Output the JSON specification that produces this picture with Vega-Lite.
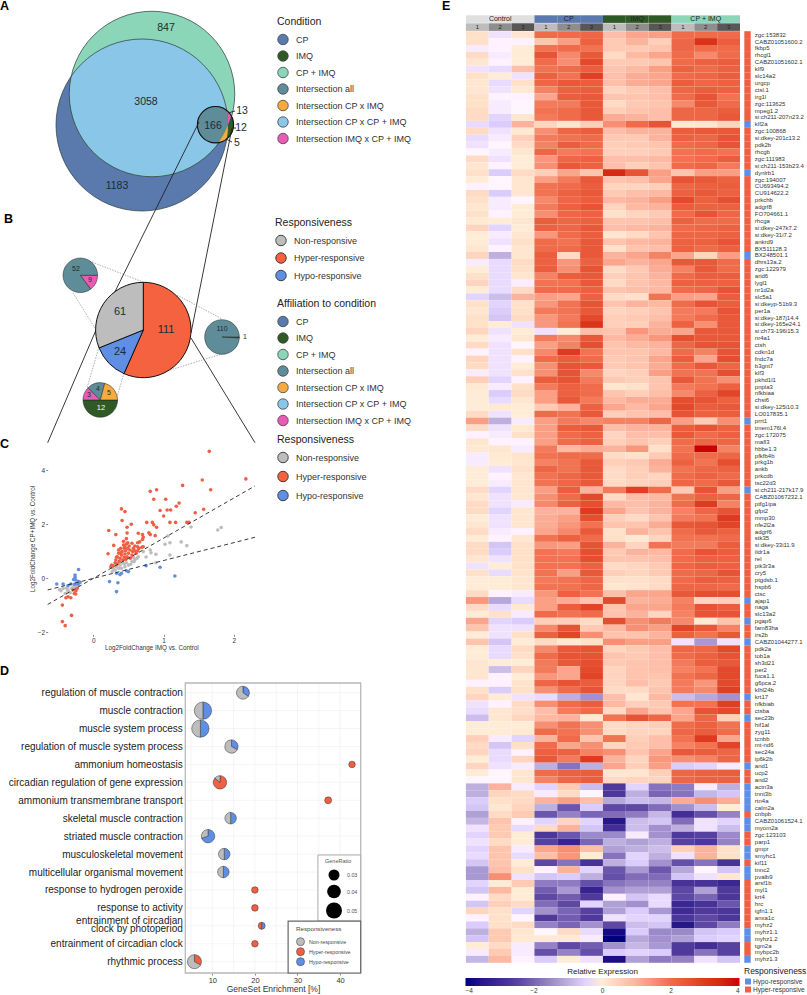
{"$schema":"https://vega.github.io/schema/vega-lite/v6.json","width":807,"height":995,"padding":0,"autosize":{"type":"none"},"background":"white",
"config":{"view":{"stroke":null},"font":"Liberation Sans","legend":{"titleFontWeight":"normal","titleColor":"#222","labelColor":"#333","titleFont":"Liberation Sans","labelFont":"Liberation Sans"},"axis":{"titleFontWeight":"normal","labelFont":"Liberation Sans","titleFont":"Liberation Sans","grid":false}},
"datasets":{
"venn":[{"set":"CP","vx":142,"vy":125,"n":4412},{"set":"CP + IMQ","vx":152,"vy":94,"n":4084},{"set":"IMQ","vx":215.5,"vy":124.7,"n":196}],
"regions":[{"cat":"CPxB","vy":39,"vx":142,"vx2":142},{"cat":"CPxB","vy":41,"vx":123.6,"vx2":160.4},{"cat":"CPxB","vy":45,"vx":110.4,"vx2":173.6},{"cat":"CPxB","vy":50,"vx":99.9,"vx2":184.1},{"cat":"CPxB","vy":55,"vx":92,"vx2":192},{"cat":"CPxB","vy":60,"vx":85.7,"vx2":198.3},{"cat":"CPxB","vy":65,"vx":80.4,"vx2":203.6},{"cat":"CPxB","vy":70,"vx":75.9,"vx2":208.1},{"cat":"CPxB","vy":74.6,"vx":72.3,"vx2":211.7},{"cat":"CPxB","vy":80,"vx":71.2,"vx2":215.3},{"cat":"CPxB","vy":85,"vx":70.5,"vx2":218.1},{"cat":"CPxB","vy":94,"vx":70,"vx2":222.2},{"cat":"CPxB","vy":105,"vx":70.7,"vx2":225.6},{"cat":"CPxB","vy":115,"vx":72.7,"vx2":227.4},{"cat":"CPxB","vy":124.8,"vx":76,"vx2":228},{"cat":"CPxB","vy":135,"vx":81,"vx2":223},{"cat":"CPxB","vy":145,"vx":87.8,"vx2":216.2},{"cat":"CPxB","vy":155,"vx":97.2,"vx2":206.8},{"cat":"CPxB","vy":165,"vx":111,"vx2":193},{"cat":"CPxB","vy":170,"vx":121.2,"vx2":182.8},{"cat":"CPxB","vy":174,"vx":134,"vx2":170},{"cat":"CPxB","vy":176,"vx":152,"vx2":152}],
"imqRegions":[{"cat":"all","vy":106.6,"vx":215.5,"vx2":215.5},{"cat":"all","vy":108,"vx":208.5,"vx2":222.5},{"cat":"all","vy":110,"vx":204.9,"vx2":226.1},{"cat":"all","vy":113,"vx":201.7,"vx2":227.2},{"cat":"all","vy":116,"vx":199.6,"vx2":227.5},{"cat":"all","vy":119,"vx":198.3,"vx2":227.8},{"cat":"all","vy":122,"vx":197.6,"vx2":227.9},{"cat":"all","vy":125,"vx":197.4,"vx2":227.9},{"cat":"all","vy":128,"vx":197.7,"vx2":226.6},{"cat":"all","vy":131,"vx":198.5,"vx2":225.2},{"cat":"all","vy":134,"vx":200,"vx2":223.6},{"cat":"all","vy":137,"vx":202.3,"vx2":221.8},{"cat":"all","vy":140,"vx":205.8,"vx2":219.9},{"cat":"all","vy":142,"vx":210.2,"vx2":218.5},{"cat":"all","vy":142.8,"vx":216,"vx2":216},
{"cat":"IMQxB","vy":110.5,"vx":226.8,"vx2":226.8},{"cat":"IMQxB","vy":113,"vx":227.2,"vx2":229.3},{"cat":"IMQxB","vy":116,"vx":227.5,"vx2":231},{"cat":"IMQxB","vy":119,"vx":227.8,"vx2":230.1},{"cat":"IMQxB","vy":122,"vx":227.9,"vx2":229.1},{"cat":"IMQxB","vy":125,"vx":228,"vx2":228},
{"cat":"CPxIMQ","vy":125,"vx":227.9,"vx2":227.9},{"cat":"CPxIMQ","vy":128,"vx":226.6,"vx2":227.9},{"cat":"CPxIMQ","vy":131,"vx":225.2,"vx2":227.8},{"cat":"CPxIMQ","vy":134,"vx":223.6,"vx2":227.5},{"cat":"CPxIMQ","vy":137,"vx":221.8,"vx2":227},{"cat":"CPxIMQ","vy":140,"vx":219.9,"vx2":225.2},{"cat":"CPxIMQ","vy":142,"vx":218.5,"vx2":220.8},{"cat":"CPxIMQ","vy":142.8,"vx":217,"vx2":217}],
"solid":[{"vx":199,"vy":122,"vx2":96,"vy2":330},{"vx":96,"vy":330,"vx2":47.7,"vy2":442.7},{"vx":232,"vy":128,"vx2":191,"vy2":333},{"vx":191,"vy":338,"vx2":255,"vy2":442.7},{"vx":228,"vy":113,"vx2":235,"vy2":111},{"vx":232,"vy":128,"vx2":236,"vy2":128},{"vx":226,"vy":139,"vx2":232,"vy2":142}],
"dotted":[{"vx":92,"vy":262,"vx2":143,"vy2":282},{"vx":73,"vy":293,"vx2":95,"vy2":328},{"vx":177,"vy":295,"vx2":222,"vy2":319},{"vx":170,"vy":370,"vx2":222,"vy2":354},{"vx":99,"vy":347,"vx2":87,"vy2":388},{"vx":124,"vy":373,"vx2":117,"vy2":397}],
"mainPie":[{"resp":"Hyper-responsive","n":111,"ord":1,"vx":143.3,"vy":330},{"resp":"Hypo-responsive","n":24,"ord":2,"vx":143.3,"vy":330},{"resp":"Non-responsive","n":61,"ord":3,"vx":143.3,"vy":330}],
"smallPies":[{"pie":"non","cat":"IMQxB","n":9,"ord":1,"vx":80.3,"vy":275.3},{"pie":"non","cat":"all","n":52,"ord":2,"vx":80.3,"vy":275.3},{"pie":"hyper","cat":"IMQ","n":1,"ord":1,"vx":222,"vy":337},{"pie":"hyper","cat":"all","n":110,"ord":2,"vx":222,"vy":337},{"pie":"hypo","cat":"IMQ","n":12,"ord":1,"vx":100.3,"vy":400},{"pie":"hypo","cat":"IMQxB","n":3,"ord":2,"vx":100.3,"vy":400},{"pie":"hypo","cat":"all","n":4,"ord":3,"vx":100.3,"vy":400},{"pie":"hypo","cat":"CPxIMQ","n":5,"ord":4,"vx":100.3,"vy":400}],
"labels":[{"t":"847","kind":"venn","vx":166,"vy":28},{"t":"3058","kind":"venn","vx":146,"vy":102},{"t":"1183","kind":"venn","vx":117,"vy":186},{"t":"166","kind":"venn","vx":213,"vy":126},{"t":"13","kind":"venn","vx":242,"vy":111},{"t":"12","kind":"venn","vx":241,"vy":128},{"t":"5","kind":"venn","vx":237,"vy":143},{"t":"61","kind":"main","vx":120,"vy":312},{"t":"111","kind":"main","vx":166,"vy":330},{"t":"24","kind":"main","vx":120,"vy":352},{"t":"52","kind":"small","vx":76,"vy":269},{"t":"9","kind":"small","vx":90,"vy":280},{"t":"110","kind":"small","vx":222,"vy":329},{"t":"1","kind":"small","vx":245,"vy":337},{"t":"3","kind":"small","vx":89,"vy":395},{"t":"4","kind":"small","vx":98,"vy":389},{"t":"5","kind":"small","vx":109,"vy":393}],
"letters":[{"t":"A","vx":0,"vy":6},{"t":"B","vx":4,"vy":219},{"t":"C","vx":0,"vy":444},{"t":"D","vx":0,"vy":671},{"t":"E","vx":442,"vy":6}],
"conditions":[{"c":"CP"},{"c":"IMQ"},{"c":"CP + IMQ"},{"c":"Intersection all"},{"c":"Intersection CP x IMQ"},{"c":"Intersection CP x CP + IMQ"},{"c":"Intersection IMQ x CP + IMQ"}],
"respCats":[{"resp":"Non-responsive"},{"resp":"Hyper-responsive"},{"resp":"Hypo-responsive"}],
"scatter":[{"x":-0.46,"y":-0.46,"r":"N"},{"x":-0.4,"y":-0.56,"r":"N"},{"x":-0.36,"y":-0.43,"r":"N"},{"x":-0.31,"y":-0.37,"r":"N"},{"x":-0.26,"y":-0.28,"r":"N"},{"x":-0.21,"y":-0.25,"r":"N"},{"x":-0.38,"y":-0.37,"r":"N"},{"x":-0.33,"y":-0.53,"r":"N"},{"x":-0.28,"y":-0.31,"r":"N"},{"x":-0.24,"y":-0.43,"r":"N"},{"x":-0.43,"y":-0.37,"r":"N"},{"x":-0.48,"y":-0.41,"r":"N"},{"x":-0.36,"y":-0.49,"r":"N"},{"x":-0.25,"y":-0.19,"r":"N"},{"x":1.82,"y":1.88,"r":"N"},{"x":1.77,"y":1.79,"r":"N"},{"x":1.39,"y":1.9,"r":"N"},{"x":1.06,"y":1.57,"r":"N"},{"x":1.09,"y":1.32,"r":"N"},{"x":1.02,"y":1.26,"r":"N"},{"x":1.25,"y":1.35,"r":"N"},{"x":1.33,"y":1.21,"r":"N"},{"x":1.09,"y":0.86,"r":"N"},{"x":0.89,"y":0.89,"r":"N"},{"x":0.81,"y":1.05,"r":"N"},{"x":0.82,"y":0.95,"r":"N"},{"x":0.75,"y":0.79,"r":"N"},{"x":0.71,"y":0.99,"r":"N"},{"x":0.64,"y":0.8,"r":"N"},{"x":0.59,"y":0.7,"r":"N"},{"x":0.55,"y":0.62,"r":"N"},{"x":0.5,"y":0.49,"r":"N"},{"x":0.45,"y":0.43,"r":"N"},{"x":0.4,"y":0.37,"r":"N"},{"x":0.36,"y":0.37,"r":"N"},{"x":0.31,"y":0.31,"r":"N"},{"x":0.27,"y":0.25,"r":"N"},{"x":0.38,"y":0.49,"r":"N"},{"x":0.44,"y":0.53,"r":"N"},{"x":0.47,"y":0.58,"r":"N"},{"x":0.53,"y":0.52,"r":"N"},{"x":0.58,"y":0.62,"r":"N"},{"x":0.62,"y":0.74,"r":"N"},{"x":0.89,"y":0.58,"r":"N"},{"x":0.33,"y":0.43,"r":"N"},{"x":0.28,"y":0.37,"r":"N"},{"x":0.42,"y":0.58,"r":"N"},{"x":0.36,"y":0.56,"r":"N"},{"x":0.52,"y":0.74,"r":"N"},{"x":0.57,"y":0.78,"r":"N"},{"x":0.31,"y":0.49,"r":"N"},
{"x":1.65,"y":4.7,"r":"H"},{"x":2.17,"y":3.68,"r":"H"},{"x":1.55,"y":3.64,"r":"H"},{"x":1.67,"y":3.28,"r":"H"},{"x":1.27,"y":3.44,"r":"H"},{"x":0.9,"y":3.28,"r":"H"},{"x":0.81,"y":3.22,"r":"H"},{"x":0.86,"y":2.93,"r":"H"},{"x":1.03,"y":2.93,"r":"H"},{"x":1.22,"y":2.79,"r":"H"},{"x":1.18,"y":2.67,"r":"H"},{"x":0.95,"y":2.51,"r":"H"},{"x":1.05,"y":2.53,"r":"H"},{"x":1.1,"y":2.53,"r":"H"},{"x":1.0,"y":2.31,"r":"H"},{"x":1.45,"y":2.43,"r":"H"},{"x":1.57,"y":2.56,"r":"H"},{"x":0.4,"y":2.57,"r":"H"},{"x":0.45,"y":2.47,"r":"H"},{"x":0.41,"y":2.14,"r":"H"},{"x":0.54,"y":2.0,"r":"H"},{"x":0.48,"y":1.89,"r":"H"},{"x":0.22,"y":1.77,"r":"H"},{"x":0.32,"y":1.62,"r":"H"},{"x":0.48,"y":1.68,"r":"H"},{"x":0.76,"y":2.07,"r":"H"},{"x":0.84,"y":2.07,"r":"H"},{"x":0.86,"y":1.98,"r":"H"},{"x":0.9,"y":1.89,"r":"H"},{"x":1.09,"y":2.07,"r":"H"},{"x":1.17,"y":2.07,"r":"H"},{"x":1.33,"y":2.07,"r":"H"},{"x":1.36,"y":2.07,"r":"H"},{"x":0.79,"y":1.69,"r":"H"},{"x":0.81,"y":1.62,"r":"H"},{"x":0.88,"y":1.58,"r":"H"},{"x":0.64,"y":1.67,"r":"H"},{"x":0.7,"y":1.62,"r":"H"},{"x":0.71,"y":1.52,"r":"H"},{"x":0.7,"y":1.44,"r":"H"},{"x":0.66,"y":1.35,"r":"H"},{"x":0.63,"y":1.32,"r":"H"},{"x":0.47,"y":1.47,"r":"H"},{"x":0.43,"y":1.37,"r":"H"},{"x":0.49,"y":1.32,"r":"H"},{"x":0.29,"y":1.22,"r":"H"},{"x":0.21,"y":0.91,"r":"H"},{"x":0.39,"y":1.11,"r":"H"},{"x":0.45,"y":1.17,"r":"H"},{"x":0.51,"y":1.2,"r":"H"},{"x":0.57,"y":1.11,"r":"H"},{"x":0.63,"y":1.17,"r":"H"},{"x":0.69,"y":1.15,"r":"H"},{"x":0.71,"y":1.17,"r":"H"},{"x":0.41,"y":0.99,"r":"H"},{"x":0.46,"y":1.02,"r":"H"},{"x":0.52,"y":1.05,"r":"H"},{"x":0.59,"y":1.02,"r":"H"},{"x":0.36,"y":0.93,"r":"H"},{"x":0.4,"y":0.86,"r":"H"},{"x":0.45,"y":0.9,"r":"H"},{"x":0.5,"y":0.93,"r":"H"},{"x":0.55,"y":0.86,"r":"H"},{"x":0.61,"y":0.93,"r":"H"},{"x":0.34,"y":0.8,"r":"H"},{"x":0.38,"y":0.74,"r":"H"},{"x":0.44,"y":0.78,"r":"H"},{"x":0.48,"y":0.8,"r":"H"},{"x":0.53,"y":0.75,"r":"H"},{"x":0.32,"y":0.68,"r":"H"},{"x":0.37,"y":0.63,"r":"H"},{"x":0.42,"y":0.68,"r":"H"},{"x":0.46,"y":0.7,"r":"H"},{"x":0.31,"y":0.58,"r":"H"},{"x":0.26,"y":0.49,"r":"H"},{"x":0.25,"y":0.43,"r":"H"},{"x":0.28,"y":0.46,"r":"H"},{"x":0.34,"y":0.53,"r":"H"},{"x":0.43,"y":1.23,"r":"H"},{"x":0.47,"y":1.27,"r":"H"},{"x":0.55,"y":1.3,"r":"H"},{"x":0.59,"y":1.2,"r":"H"},{"x":0.65,"y":1.11,"r":"H"},{"x":0.33,"y":0.78,"r":"H"},{"x":0.39,"y":0.95,"r":"H"},{"x":0.44,"y":1.11,"r":"H"},{"x":0.49,"y":1.11,"r":"H"},{"x":0.56,"y":0.99,"r":"H"},{"x":0.63,"y":1.02,"r":"H"},{"x":0.36,"y":1.05,"r":"H"},{"x":-0.44,"y":-0.99,"r":"H"},{"x":-0.44,"y":-1.6,"r":"H"},{"x":-0.4,"y":-1.75,"r":"H"},{"x":-0.31,"y":-1.37,"r":"H"},{"x":-0.39,"y":-0.72,"r":"H"},{"x":-0.36,"y":-0.68,"r":"H"},{"x":-0.32,"y":-0.72,"r":"H"},{"x":-0.27,"y":-0.56,"r":"H"},{"x":-0.25,"y":-0.46,"r":"H"},{"x":-0.29,"y":-0.43,"r":"H"},{"x":-0.25,"y":-0.58,"r":"H"},{"x":-0.23,"y":-0.37,"r":"H"},
{"x":1.16,"y":0.09,"r":"L"},{"x":0.95,"y":0.41,"r":"L"},{"x":0.75,"y":0.47,"r":"L"},{"x":0.5,"y":0.25,"r":"L"},{"x":0.47,"y":0.28,"r":"L"},{"x":0.38,"y":0.14,"r":"L"},{"x":0.33,"y":0.19,"r":"L"},{"x":0.23,"y":-0.12,"r":"L"},{"x":0.35,"y":-0.16,"r":"L"},{"x":0.33,"y":-0.49,"r":"L"},{"x":-0.21,"y":0.33,"r":"L"},{"x":-0.26,"y":0.12,"r":"L"},{"x":-0.26,"y":0.04,"r":"L"},{"x":-0.28,"y":-0.04,"r":"L"},{"x":-0.25,"y":-0.06,"r":"L"},{"x":-0.21,"y":-0.12,"r":"L"},{"x":-0.19,"y":-0.15,"r":"L"},{"x":-0.22,"y":-0.22,"r":"L"},{"x":-0.27,"y":-0.22,"r":"L"},{"x":-0.43,"y":-0.21,"r":"L"},{"x":-0.52,"y":-0.21,"r":"L"},{"x":-0.36,"y":-0.27,"r":"L"},{"x":-0.32,"y":-0.21,"r":"L"},{"x":0.4,"y":0.19,"r":"L"}],
"fits":[{"fit":"a","x":-0.649,"y":-0.965},{"fit":"a","x":2.3,"y":3.42},{"fit":"b","x":-0.649,"y":-0.43},{"fit":"b","x":2.3,"y":1.52}],
"enrich":[{"term":"regulation of muscle contraction","enrich":17.2,"ratio":0.028,"resp":"Hypo-responsive","n":35,"ord":1},{"term":"regulation of muscle contraction","enrich":17.2,"ratio":0.028,"resp":"Non-responsive","n":65,"ord":2},{"term":"muscle contraction","enrich":7.8,"ratio":0.05,"resp":"Hypo-responsive","n":50,"ord":1},{"term":"muscle contraction","enrich":7.8,"ratio":0.05,"resp":"Non-responsive","n":50,"ord":2},{"term":"muscle system process","enrich":7.2,"ratio":0.05,"resp":"Hypo-responsive","n":50,"ord":1},{"term":"muscle system process","enrich":7.2,"ratio":0.05,"resp":"Non-responsive","n":50,"ord":2},{"term":"regulation of muscle system process","enrich":14.5,"ratio":0.029,"resp":"Hypo-responsive","n":33,"ord":1},{"term":"regulation of muscle system process","enrich":14.5,"ratio":0.029,"resp":"Non-responsive","n":67,"ord":2},{"term":"ammonium homeostasis","enrich":42.8,"ratio":0.0072,"resp":"Hyper-responsive","n":100,"ord":1},{"term":"circadian regulation of gene expression","enrich":11.8,"ratio":0.03,"resp":"Hyper-responsive","n":86,"ord":1},{"term":"circadian regulation of gene expression","enrich":11.8,"ratio":0.03,"resp":"Non-responsive","n":14,"ord":2},{"term":"ammonium transmembrane transport","enrich":37.2,"ratio":0.008,"resp":"Hyper-responsive","n":100,"ord":1},{"term":"skeletal muscle contraction","enrich":14.3,"ratio":0.022,"resp":"Hypo-responsive","n":50,"ord":1},{"term":"skeletal muscle contraction","enrich":14.3,"ratio":0.022,"resp":"Non-responsive","n":50,"ord":2},{"term":"striated muscle contraction","enrich":9,"ratio":0.03,"resp":"Hypo-responsive","n":70,"ord":1},{"term":"striated muscle contraction","enrich":9,"ratio":0.03,"resp":"Non-responsive","n":30,"ord":2},{"term":"musculoskeletal movement","enrich":12.8,"ratio":0.022,"resp":"Hypo-responsive","n":50,"ord":1},{"term":"musculoskeletal movement","enrich":12.8,"ratio":0.022,"resp":"Non-responsive","n":50,"ord":2},{"term":"multicellular organismal movement","enrich":12.6,"ratio":0.022,"resp":"Hypo-responsive","n":50,"ord":1},{"term":"multicellular organismal movement","enrich":12.6,"ratio":0.022,"resp":"Non-responsive","n":50,"ord":2},{"term":"response to hydrogen peroxide","enrich":20,"ratio":0.0072,"resp":"Hyper-responsive","n":100,"ord":1},{"term":"response to activity","enrich":20,"ratio":0.0072,"resp":"Hyper-responsive","n":100,"ord":1},{"term":"entrainment of circadian clock by photoperiod","enrich":21.6,"ratio":0.0081,"resp":"Hypo-responsive","n":50,"ord":1},{"term":"entrainment of circadian clock by photoperiod","enrich":21.6,"ratio":0.0081,"resp":"Hyper-responsive","n":50,"ord":2},{"term":"entrainment of circadian clock","enrich":20,"ratio":0.0072,"resp":"Hyper-responsive","n":100,"ord":1},{"term":"rhythmic process","enrich":5.8,"ratio":0.033,"resp":"Hyper-responsive","n":33,"ord":1},{"term":"rhythmic process","enrich":5.8,"ratio":0.033,"resp":"Non-responsive","n":67,"ord":2}],
"hdr":[{"s":"C1","cond":"Control","rep":"1"},{"s":"C2","cond":"Control","rep":"2"},{"s":"C3","cond":"Control","rep":"3"},{"s":"P1","cond":"CP","rep":"1"},{"s":"P2","cond":"CP","rep":"2"},{"s":"P3","cond":"CP","rep":"3"},{"s":"I1","cond":"IMQ","rep":"1"},{"s":"I2","cond":"IMQ","rep":"2"},{"s":"I3","cond":"IMQ","rep":"3"},{"s":"B1","cond":"CP + IMQ","rep":"1"},{"s":"B2","cond":"CP + IMQ","rep":"2"},{"s":"B3","cond":"CP + IMQ","rep":"3"}],
"heat":[
{"g":"zgc:153832","r":"Hyper","C1":0.2,"C2":-0.3,"C3":0.1,"P1":2,"P2":2,"P3":2.1,"I1":0.8,"I2":1.2,"I3":1.3,"B1":2,"B2":2,"B3":2},
{"g":"CABZ01051600.2","r":"Hyper","C1":0.2,"C2":-0.1,"C3":-0.1,"P1":0.7,"P2":1.3,"P3":2.2,"I1":0.6,"I2":1,"I3":0.5,"B1":2.1,"B2":3.2,"B3":2.3},
{"g":"fkbp5","r":"Hyper","C1":-0.2,"C2":-0.1,"C3":0,"P1":1.9,"P2":2,"P3":1.9,"I1":0.6,"I2":0.6,"I3":0.7,"B1":2.1,"B2":2,"B3":2},
{"g":"rhcgl1","r":"Hyper","C1":0.3,"C2":-0.2,"C3":0,"P1":2.5,"P2":1.6,"P3":2.4,"I1":0.3,"I2":0.9,"I3":1.2,"B1":2,"B2":1.6,"B3":2},
{"g":"CABZ01051602.1","r":"Hyper","C1":0.1,"C2":-0.1,"C3":0,"P1":2,"P2":1.5,"P3":2.7,"I1":0.6,"I2":0.6,"I3":0.7,"B1":2,"B2":2.2,"B3":2.3},
{"g":"klf9","r":"Hyper","C1":-0.3,"C2":-0.4,"C3":0.8,"P1":1.9,"P2":2,"P3":2.3,"I1":0.7,"I2":0.9,"I3":1.3,"B1":2.2,"B2":2,"B3":2.2},
{"g":"slc14a2","r":"Hyper","C1":0.2,"C2":0,"C3":-0.3,"P1":2.2,"P2":1.9,"P3":2.9,"I1":0.8,"I2":1.1,"I3":1.2,"B1":2,"B2":2.1,"B3":2.3},
{"g":"urgcp","r":"Hyper","C1":0.1,"C2":-0.4,"C3":0.2,"P1":2.1,"P2":2.4,"P3":2.3,"I1":0.8,"I2":1.1,"I3":1.2,"B1":2.3,"B2":2.1,"B3":2.2},
{"g":"ctsl.1","r":"Hyper","C1":0.1,"C2":-0.3,"C3":0.05,"P1":1.7,"P2":2.2,"P3":2.3,"I1":0.4,"I2":0.6,"I3":0.8,"B1":2.1,"B2":2.3,"B3":2.2},
{"g":"irg1l","r":"Hyper","C1":0.2,"C2":-0.1,"C3":-0.1,"P1":1.2,"P2":2.3,"P3":2.4,"I1":0.7,"I2":0.7,"I3":0.8,"B1":2,"B2":2.5,"B3":1.9},
{"g":"zgc:113625","r":"Hyper","C1":0.2,"C2":-0.2,"C3":-0.05,"P1":1.8,"P2":1.8,"P3":2.4,"I1":0.3,"I2":0.6,"I3":0.7,"B1":1.6,"B2":2.4,"B3":2},
{"g":"mpeg1.2","r":"Hyper","C1":0.3,"C2":-0.2,"C3":-0.05,"P1":1.9,"P2":2,"P3":2.4,"I1":0.5,"I2":0.7,"I3":0.8,"B1":2.1,"B2":2.1,"B3":2.3},
{"g":"si:ch211-207n23.2","r":"Hyper","C1":0.3,"C2":-0.5,"C3":0.1,"P1":1.8,"P2":2,"P3":2.4,"I1":1.1,"I2":1,"I3":0.8,"B1":2.1,"B2":2.1,"B3":2.4},
{"g":"klf2a","r":"Hypo","C1":-0.4,"C2":-0.6,"C3":1,"P1":0.4,"P2":0.1,"P3":0.5,"I1":1.5,"I2":2,"I3":2.5,"B1":0.05,"B2":0.1,"B3":0.4},
{"g":"zgc:100868","r":"Hyper","C1":0.3,"C2":-0.3,"C3":0.05,"P1":1.5,"P2":2.1,"P3":2.3,"I1":0.8,"I2":1,"I3":1,"B1":2.3,"B2":2.4,"B3":2.4},
{"g":"si:dkey-201c13.2","r":"Hyper","C1":-0.4,"C2":-0.2,"C3":0.5,"P1":1.8,"P2":1.9,"P3":2,"I1":0.6,"I2":0.6,"I3":1,"B1":2.2,"B2":2.1,"B3":2.5},
{"g":"pdk2b","r":"Hyper","C1":-0.3,"C2":-0.05,"C3":0.3,"P1":1.7,"P2":2.3,"P3":2,"I1":0.5,"I2":0.6,"I3":0.7,"B1":2,"B2":2.1,"B3":2.5},
{"g":"rhcgb","r":"Hyper","C1":-0.05,"C2":-0.2,"C3":0.1,"P1":2.1,"P2":1.8,"P3":1.9,"I1":0.5,"I2":0.5,"I3":0.6,"B1":1.9,"B2":2,"B3":1.9},
{"g":"zgc:111983","r":"Hyper","C1":0.3,"C2":-0.3,"C3":0,"P1":1.4,"P2":2.1,"P3":2.2,"I1":0.8,"I2":0.8,"I3":0.9,"B1":1.9,"B2":2,"B3":2.3},
{"g":"si:ch211-153b23.4","r":"Hyper","C1":0.1,"C2":-0.1,"C3":0,"P1":1.5,"P2":2.4,"P3":2.2,"I1":0.8,"I2":0.5,"I3":0.7,"B1":2,"B2":2.1,"B3":1.8},
{"g":"dynlrb1","r":"Hypo","C1":0.2,"C2":-0.6,"C3":0.3,"P1":0.5,"P2":1.2,"P3":0.7,"I1":3.4,"I2":2.5,"I3":1.3,"B1":0.7,"B2":1.3,"B3":1.3},
{"g":"zgc:194007","r":"Hyper","C1":0,"C2":-0.05,"C3":0.1,"P1":1.3,"P2":1.8,"P3":2.4,"I1":0.7,"I2":0.8,"I3":1.2,"B1":2.5,"B2":2.4,"B3":2.2},
{"g":"CU693494.2","r":"Hyper","C1":-0.1,"C2":-0.05,"C3":0.1,"P1":1.9,"P2":2,"P3":2.3,"I1":0.4,"I2":0.4,"I3":0.5,"B1":2.1,"B2":2.2,"B3":2.3},
{"g":"CU914622.2","r":"Hyper","C1":0.3,"C2":-0.6,"C3":0.1,"P1":1.9,"P2":2.2,"P3":2.4,"I1":0.6,"I2":0.8,"I3":0.9,"B1":2.2,"B2":2.4,"B3":2.2},
{"g":"prkchb","r":"Hyper","C1":0.2,"C2":-0.2,"C3":-0.05,"P1":1.6,"P2":2.1,"P3":2.3,"I1":0.9,"I2":1,"I3":1.3,"B1":2.7,"B2":2.2,"B3":2.6},
{"g":"adgrf8","r":"Hyper","C1":0.1,"C2":-0.2,"C3":0,"P1":1.8,"P2":2.2,"P3":2.5,"I1":0.4,"I2":0.9,"I3":1,"B1":2.3,"B2":2.2,"B3":2.2},
{"g":"FO704661.1","r":"Hyper","C1":0.2,"C2":-0.1,"C3":0,"P1":1.5,"P2":2.1,"P3":2.2,"I1":0.2,"I2":0.4,"I3":0.6,"B1":2,"B2":2.5,"B3":2.1},
{"g":"rhcga","r":"Hyper","C1":0.05,"C2":0,"C3":0.1,"P1":2.3,"P2":2.1,"P3":2.2,"I1":0.7,"I2":0.7,"I3":0.8,"B1":2.2,"B2":2,"B3":2},
{"g":"si:dkey-247k7.2","r":"Hyper","C1":0.4,"C2":-0.5,"C3":0,"P1":2.2,"P2":2.1,"P3":2.4,"I1":0.8,"I2":0.9,"I3":1,"B1":2,"B2":2.1,"B3":2.2},
{"g":"si:dkey-31i7.2","r":"Hyper","C1":0,"C2":-0.2,"C3":0.1,"P1":1.4,"P2":2,"P3":2.3,"I1":0.1,"I2":0.3,"I3":0.7,"B1":2.1,"B2":2.1,"B3":2.2},
{"g":"ankrd9","r":"Hyper","C1":0,"C2":-0.3,"C3":0.2,"P1":2,"P2":1.9,"P3":2.4,"I1":0.7,"I2":0.9,"I3":1,"B1":2.2,"B2":2.2,"B3":2.5},
{"g":"BX511128.3","r":"Hyper","C1":0.1,"C2":-0.1,"C3":0.1,"P1":2,"P2":2,"P3":2.4,"I1":0.2,"I2":0.7,"I3":0.8,"B1":2.2,"B2":2,"B3":2.2},
{"g":"BX248501.1","r":"Hypo","C1":0.4,"C2":-1,"C3":0.1,"P1":2.3,"P2":0.3,"P3":2.4,"I1":1,"I2":1.2,"I3":1.7,"B1":1.2,"B2":0.4,"B3":1.3},
{"g":"dhrs13a.2","r":"Hyper","C1":-0.2,"C2":-0.4,"C3":0.3,"P1":2.2,"P2":1.4,"P3":2.2,"I1":1.2,"I2":1,"I3":1.2,"B1":2.4,"B2":2.4,"B3":2},
{"g":"zgc:122979","r":"Hyper","C1":0,"C2":-0.4,"C3":0.2,"P1":2.3,"P2":1.5,"P3":2.5,"I1":0.3,"I2":0.6,"I3":1.1,"B1":1.7,"B2":2.4,"B3":2},
{"g":"arid6","r":"Hyper","C1":0.2,"C2":-0.4,"C3":0.1,"P1":1.7,"P2":2.3,"P3":2.4,"I1":0.5,"I2":0.7,"I3":1,"B1":2,"B2":2.3,"B3":2.3},
{"g":"lygl1","r":"Hyper","C1":0.4,"C2":-0.4,"C3":-0.15,"P1":1.9,"P2":1.9,"P3":2.4,"I1":0.3,"I2":0.7,"I3":0.9,"B1":2.2,"B2":2.2,"B3":2.2},
{"g":"nr1d2a","r":"Hyper","C1":0,"C2":-0.4,"C3":0.3,"P1":2,"P2":2,"P3":2.2,"I1":0.7,"I2":0.8,"I3":0.9,"B1":2,"B2":2.1,"B3":2.5},
{"g":"slc5a1","r":"Hyper","C1":-0.5,"C2":-0.8,"C3":1,"P1":1.3,"P2":1.2,"P3":2.2,"I1":0.3,"I2":0.2,"I3":1.9,"B1":1.3,"B2":1.2,"B3":2.3},
{"g":"si:dkeyp-51b9.3","r":"Hyper","C1":0.2,"C2":-0.5,"C3":0.2,"P1":1.4,"P2":1.9,"P3":2.5,"I1":0.7,"I2":1,"I3":0.9,"B1":2,"B2":2.5,"B3":2.3},
{"g":"per1a","r":"Hyper","C1":0.1,"C2":-0.6,"C3":0.2,"P1":1.8,"P2":1.9,"P3":2.4,"I1":0.4,"I2":0.5,"I3":0.7,"B1":1.8,"B2":1.8,"B3":2.5},
{"g":"si:dkey-187j14.4","r":"Hyper","C1":0.2,"C2":-0.7,"C3":0.3,"P1":1.4,"P2":1.8,"P3":2.7,"I1":0.5,"I2":0.6,"I3":0.8,"B1":1.8,"B2":2,"B3":2.4},
{"g":"si:dkey-165e24.1","r":"Hyper","C1":0.2,"C2":0,"C3":-0.3,"P1":1.4,"P2":1.9,"P3":3.2,"I1":0.5,"I2":0.5,"I3":1,"B1":2.2,"B2":1.5,"B3":2.4},
{"g":"si:ch73-196i15.3","r":"Hyper","C1":0.4,"C2":-0.3,"C3":0,"P1":-0.3,"P2":0,"P3":0.8,"I1":0.7,"I2":1.4,"I3":1.1,"B1":1.2,"B2":2.4,"B3":2.4},
{"g":"nr4a1","r":"Hyper","C1":0,"C2":-0.2,"C3":0.1,"P1":1.8,"P2":1.6,"P3":2.4,"I1":0.9,"I2":1.1,"I3":1.4,"B1":2.6,"B2":2.4,"B3":2.4},
{"g":"ctsh","r":"Hyper","C1":0.3,"C2":-0.3,"C3":-0.05,"P1":1.3,"P2":1.7,"P3":2.6,"I1":0.7,"I2":0.9,"I3":1,"B1":2.1,"B2":2.5,"B3":2.5},
{"g":"cdkn1d","r":"Hyper","C1":-0.1,"C2":-0.3,"C3":0.2,"P1":1.6,"P2":3,"P3":1.9,"I1":0.7,"I2":0.7,"I3":0.9,"B1":2,"B2":1.7,"B3":2.5},
{"g":"fndc7a","r":"Hyper","C1":0.4,"C2":-0.3,"C3":-0.1,"P1":2,"P2":2.3,"P3":2,"I1":0.6,"I2":0.7,"I3":1.2,"B1":2.3,"B2":1.2,"B3":2.6},
{"g":"b3gnt7","r":"Hyper","C1":0.3,"C2":-0.3,"C3":0,"P1":1.5,"P2":2.5,"P3":2.4,"I1":0.6,"I2":0.7,"I3":1.1,"B1":2,"B2":2.4,"B3":2.1},
{"g":"klf3","r":"Hyper","C1":-0.2,"C2":-0.3,"C3":0.2,"P1":1.5,"P2":2.5,"P3":1.6,"I1":0.4,"I2":0.5,"I3":1.3,"B1":1.9,"B2":1.9,"B3":2.6},
{"g":"pkhd1l1","r":"Hyper","C1":0.5,"C2":-0.5,"C3":-0.1,"P1":2.3,"P2":2.5,"P3":1.8,"I1":0.6,"I2":0.5,"I3":0.7,"B1":2.4,"B2":1.9,"B3":1.5},
{"g":"pnpla3","r":"Hyper","C1":0.05,"C2":-0.2,"C3":0.2,"P1":1.8,"P2":2.2,"P3":2,"I1":0.1,"I2":0.2,"I3":0.7,"B1":1.8,"B2":1.9,"B3":2.2},
{"g":"nfkbiaa","r":"Hyper","C1":0,"C2":-0.6,"C3":0.3,"P1":1.3,"P2":2.2,"P3":2,"I1":0.7,"I2":0.5,"I3":0.8,"B1":1.6,"B2":2.2,"B3":2.8},
{"g":"chst6","r":"Hyper","C1":0,"C2":-0.4,"C3":0.1,"P1":1.3,"P2":2.4,"P3":1.8,"I1":0.9,"I2":1.1,"I3":1.1,"B1":2.6,"B2":2.5,"B3":2.2},
{"g":"si:dkey-125i10.3","r":"Hyper","C1":0,"C2":0.05,"C3":0,"P1":0.6,"P2":1,"P3":2.2,"I1":1.2,"I2":0.9,"I3":1.2,"B1":2.7,"B2":2.3,"B3":2.4},
{"g":"LO017835.1","r":"Hyper","C1":0.3,"C2":-0.3,"C3":0,"P1":2,"P2":1.9,"P3":2.4,"I1":0.5,"I2":0.7,"I3":0.8,"B1":2.5,"B2":2.2,"B3":2.3},
{"g":"prrt1","r":"Hypo","C1":1.3,"C2":-1,"C3":-0.2,"P1":1.3,"P2":1.8,"P3":1.6,"I1":1.7,"I2":1.7,"I3":2.1,"B1":1.3,"B2":0.6,"B3":1.5},
{"g":"tmem176l.4","r":"Hyper","C1":0.3,"C2":-0.3,"C3":0.05,"P1":1.3,"P2":2.3,"P3":2.4,"I1":0.8,"I2":1,"I3":1,"B1":2.3,"B2":2.5,"B3":2.2},
{"g":"zgc:172075","r":"Hyper","C1":-0.1,"C2":-0.2,"C3":0.2,"P1":1.3,"P2":2,"P3":2.2,"I1":0.4,"I2":0.8,"I3":0.8,"B1":2.4,"B2":2,"B3":2.2},
{"g":"mafl3","r":"Hyper","C1":0.1,"C2":-0.1,"C3":-0.1,"P1":1.3,"P2":2,"P3":2.2,"I1":0.5,"I2":0.7,"I3":0.5,"B1":2,"B2":2.1,"B3":2.1},
{"g":"hbbe1.3","r":"Hyper","C1":0.05,"C2":0.1,"C3":-0.2,"P1":1.8,"P2":0.9,"P3":1.1,"I1":1,"I2":1.4,"I3":0.2,"B1":1.9,"B2":4,"B3":1.7},
{"g":"pfkfb4b","r":"Hyper","C1":-0.2,"C2":0.05,"C3":0.15,"P1":1.9,"P2":2,"P3":2,"I1":0.3,"I2":0.2,"I3":0.6,"B1":2,"B2":2,"B3":2.1},
{"g":"prkg1b","r":"Hyper","C1":-0.2,"C2":0,"C3":0.1,"P1":1.7,"P2":1.9,"P3":2.4,"I1":0.5,"I2":0.6,"I3":1.1,"B1":2.2,"B2":1.9,"B3":2.6},
{"g":"ankb","r":"Hyper","C1":0,"C2":-0.3,"C3":0.2,"P1":2.1,"P2":1.9,"P3":2.4,"I1":0.3,"I2":0.5,"I3":1,"B1":1.9,"B2":2.1,"B3":2.2},
{"g":"prkcdb","r":"Hyper","C1":0,"C2":-0.1,"C3":0.1,"P1":1.9,"P2":2.1,"P3":2.4,"I1":0.3,"I2":0.5,"I3":0.4,"B1":2,"B2":2.2,"B3":2},
{"g":"tsc22d3","r":"Hyper","C1":0,"C2":-0.2,"C3":0.1,"P1":1.9,"P2":2.1,"P3":2.4,"I1":0.3,"I2":0.4,"I3":0.5,"B1":2.1,"B2":2,"B3":2.4},
{"g":"si:ch211-217k17.9","r":"Hypo","C1":0.3,"C2":-0.5,"C3":0.1,"P1":1.3,"P2":2.3,"P3":1,"I1":1.8,"I2":2.9,"I3":2,"B1":0.6,"B2":2.5,"B3":1.3},
{"g":"CABZ01067232.1","r":"Hyper","C1":0.1,"C2":-0.3,"C3":0.1,"P1":1.5,"P2":2,"P3":2.7,"I1":0.3,"I2":0.8,"I3":0.9,"B1":1.9,"B2":2.2,"B3":2.1},
{"g":"ptfg1ipa","r":"Hyper","C1":0.3,"C2":-0.3,"C3":-0.2,"P1":1.6,"P2":2.2,"P3":2.6,"I1":0.9,"I2":0.8,"I3":1,"B1":2,"B2":3,"B3":1.7},
{"g":"gfpt2","r":"Hyper","C1":0.3,"C2":-0.5,"C3":0.1,"P1":1,"P2":1,"P3":3,"I1":1.2,"I2":0.7,"I3":1,"B1":1.7,"B2":2.1,"B3":2.5},
{"g":"mmp30","r":"Hyper","C1":0,"C2":-0.3,"C3":0.1,"P1":1.1,"P2":1.3,"P3":2.6,"I1":0.5,"I2":0.3,"I3":0.7,"B1":1.8,"B2":1.9,"B3":3},
{"g":"nfe2l2a","r":"Hyper","C1":0.1,"C2":-0.3,"C3":0.1,"P1":1.1,"P2":1.4,"P3":1.9,"I1":0.7,"I2":0.7,"I3":1.1,"B1":2.4,"B2":2.5,"B3":2.8},
{"g":"adgrf6","r":"Hyper","C1":0.3,"C2":-0.2,"C3":-0.1,"P1":1.2,"P2":1.6,"P3":2.4,"I1":0.2,"I2":1,"I3":0.7,"B1":2,"B2":2.4,"B3":2.2},
{"g":"stk35","r":"Hyper","C1":0,"C2":-0.1,"C3":0.1,"P1":1.9,"P2":2.2,"P3":2,"I1":0.2,"I2":0.05,"I3":0.4,"B1":1.9,"B2":1.9,"B3":2},
{"g":"si:dkey-33i11.9","r":"Hyper","C1":0.3,"C2":-0.7,"C3":0.2,"P1":1.4,"P2":1.3,"P3":2.5,"I1":1,"I2":0.4,"I3":1.9,"B1":1.8,"B2":1.8,"B3":2.3},
{"g":"ildr1a","r":"Hyper","C1":0.3,"C2":-0.6,"C3":0.2,"P1":1.9,"P2":1.8,"P3":2.6,"I1":0.6,"I2":1,"I3":0.9,"B1":2,"B2":2.5,"B3":2.3},
{"g":"rel","r":"Hyper","C1":0.1,"C2":-0.3,"C3":0.2,"P1":1.9,"P2":1.9,"P3":2.6,"I1":0.7,"I2":0.7,"I3":0.8,"B1":2,"B2":2.2,"B3":2.2},
{"g":"pik3r3a","r":"Hyper","C1":-0.3,"C2":0,"C3":0.2,"P1":1.9,"P2":1.9,"P3":2.2,"I1":0.3,"I2":0.4,"I3":0.6,"B1":2.1,"B2":2.3,"B3":2.2},
{"g":"cry5","r":"Hyper","C1":0.2,"C2":-0.4,"C3":0.15,"P1":1.9,"P2":1.3,"P3":2.4,"I1":0.5,"I2":0.4,"I3":0.6,"B1":2,"B2":2.1,"B3":2.5},
{"g":"ptgdsb.1","r":"Hyper","C1":0,"C2":0,"C3":0.1,"P1":1.8,"P2":1.9,"P3":2.1,"I1":0.2,"I2":0.2,"I3":0.3,"B1":2,"B2":2.3,"B3":2.2},
{"g":"hspb6","r":"Hyper","C1":0,"C2":0,"C3":0.1,"P1":1.9,"P2":1.9,"P3":2.1,"I1":0.1,"I2":0.15,"I3":0.3,"B1":2.1,"B2":2.1,"B3":2},
{"g":"ctsc","r":"Hyper","C1":0.3,"C2":-0.1,"C3":-0.2,"P1":1.4,"P2":2.2,"P3":1.9,"I1":0.8,"I2":1.2,"I3":1.2,"B1":2.4,"B2":2.6,"B3":2.6},
{"g":"ajap1","r":"Hypo","C1":1.4,"C2":-1.1,"C3":-0.4,"P1":1.3,"P2":1.1,"P3":0.7,"I1":2.7,"I2":1,"I3":1.1,"B1":1.7,"B2":0.4,"B3":0.5},
{"g":"naga","r":"Hyper","C1":0.3,"C2":-0.4,"C3":0.05,"P1":1.3,"P2":2.3,"P3":2.8,"I1":0.7,"I2":1.2,"I3":1.2,"B1":1.8,"B2":2.5,"B3":2.3},
{"g":"slc13a2","r":"Hyper","C1":0,"C2":0.2,"C3":-0.2,"P1":2,"P2":1.9,"P3":2,"I1":0.7,"I2":1,"I3":0.4,"B1":1.7,"B2":2.5,"B3":2.5},
{"g":"pgap6","r":"Hypo","C1":1.2,"C2":-0.5,"C3":-0.6,"P1":0.5,"P2":0.5,"P3":0.3,"I1":2.6,"I2":1.5,"I3":1.8,"B1":1.6,"B2":0.05,"B3":0.7},
{"g":"fam83ha","r":"Hyper","C1":0.7,"C2":-0.3,"C3":-0.3,"P1":1.6,"P2":2.5,"P3":0.6,"I1":0.9,"I2":1.5,"I3":1.3,"B1":2.8,"B2":2.4,"B3":1.7},
{"g":"irs2b","r":"Hyper","C1":0,"C2":-0.3,"C3":0.2,"P1":2.2,"P2":2.8,"P3":1.5,"I1":0.7,"I2":0.7,"I3":1,"B1":2.2,"B2":1.9,"B3":2.4},
{"g":"CABZ01044277.1","r":"Hypo","C1":0.7,"C2":-0.7,"C3":0,"P1":0.3,"P2":0.05,"P3":0.2,"I1":1.5,"I2":1.3,"I3":1.3,"B1":-0.3,"B2":-1.3,"B3":-0.3},
{"g":"pdk2a","r":"Hyper","C1":0,"C2":-0.4,"C3":0.3,"P1":1.6,"P2":2.4,"P3":2.5,"I1":0.4,"I2":0.6,"I3":0.8,"B1":2.1,"B2":2.1,"B3":2.7},
{"g":"tob1a","r":"Hyper","C1":0,"C2":-0.4,"C3":0.2,"P1":2,"P2":2.5,"P3":2.5,"I1":0.7,"I2":0.6,"I3":0.8,"B1":2,"B2":2.2,"B3":2.5},
{"g":"sh3d21","r":"Hyper","C1":0.1,"C2":0,"C3":0,"P1":1.8,"P2":2.4,"P3":2.6,"I1":0.6,"I2":0.7,"I3":0.8,"B1":1.8,"B2":2.3,"B3":2.4},
{"g":"per2","r":"Hyper","C1":0.1,"C2":-0.8,"C3":0.4,"P1":1.8,"P2":1.2,"P3":2.7,"I1":0.4,"I2":0.7,"I3":0.8,"B1":1.7,"B2":1.9,"B3":2.7},
{"g":"fuca1.1","r":"Hyper","C1":0.1,"C2":-0.1,"C3":0,"P1":1.4,"P2":1.2,"P3":2.8,"I1":0.4,"I2":0.7,"I3":0.7,"B1":1.9,"B2":2.1,"B3":2.7},
{"g":"g6pca.2","r":"Hyper","C1":-0.1,"C2":-0.1,"C3":0.15,"P1":2.1,"P2":2.5,"P3":2.3,"I1":0.4,"I2":0.8,"I3":0.6,"B1":1.8,"B2":1.4,"B3":2.7},
{"g":"klhl24b","r":"Hyper","C1":0.2,"C2":-0.6,"C3":0.2,"P1":1.5,"P2":2,"P3":2.5,"I1":0.3,"I2":0.3,"I3":0.7,"B1":1.8,"B2":1.6,"B3":2.9},
{"g":"krt17","r":"Hypo","C1":0.4,"C2":0,"C3":-0.3,"P1":-0.4,"P2":-1,"P3":-1.4,"I1":0.8,"I2":0.1,"I3":0.9,"B1":-0.8,"B2":-1.1,"B3":-1.4},
{"g":"nfkbiab","r":"Hyper","C1":-0.3,"C2":-0.1,"C3":0.3,"P1":1.5,"P2":2,"P3":2.3,"I1":0.9,"I2":0.5,"I3":0.6,"B1":1.9,"B2":1.9,"B3":2.9},
{"g":"ctsba","r":"Hyper","C1":-0.4,"C2":0.1,"C3":0.25,"P1":0.8,"P2":1.8,"P3":2,"I1":0.3,"I2":1.2,"I3":0.7,"B1":1.2,"B2":2.5,"B3":2.7},
{"g":"sec23b","r":"Hypo","C1":-0.8,"C2":0.1,"C3":0.4,"P1":0.9,"P2":1,"P3":0.05,"I1":1.9,"I2":2.5,"I3":2.1,"B1":1.2,"B2":2.1,"B3":0.5},
{"g":"hif1al","r":"Hyper","C1":0,"C2":0,"C3":0,"P1":1.5,"P2":1.9,"P3":1.5,"I1":0.3,"I2":0.4,"I3":0.5,"B1":2,"B2":2.2,"B3":1.9},
{"g":"zyg11","r":"Hyper","C1":0,"C2":0,"C3":0.05,"P1":2,"P2":1.9,"P3":1.5,"I1":0.3,"I2":0.4,"I3":0.4,"B1":2.1,"B2":2.3,"B3":2},
{"g":"tcnbb","r":"Hyper","C1":0.5,"C2":-0.2,"C3":-0.5,"P1":1,"P2":2,"P3":0.7,"I1":1.9,"I2":0.5,"I3":0.8,"B1":1.9,"B2":3,"B3":1.2},
{"g":"mt-nd6","r":"Hyper","C1":0.3,"C2":-0.7,"C3":0.2,"P1":2,"P2":1.2,"P3":1.5,"I1":0.4,"I2":0.6,"I3":0.8,"B1":1.7,"B2":1.9,"B3":2.8},
{"g":"sec24a","r":"Hyper","C1":0.4,"C2":-0.4,"C3":-0.1,"P1":2.2,"P2":2.2,"P3":1.7,"I1":1.5,"I2":0.7,"I3":1.2,"B1":2.4,"B2":2.3,"B3":2.1},
{"g":"ip6k2b","r":"Hyper","C1":0,"C2":-0.4,"C3":0.4,"P1":2.4,"P2":1.8,"P3":3,"I1":1,"I2":0.4,"I3":1.4,"B1":1.5,"B2":1.7,"B3":2.1},
{"g":"and1","r":"Hypo","C1":0.4,"C2":-0.3,"C3":-0.2,"P1":-1,"P2":-1.8,"P3":-1,"I1":1.2,"I2":0.5,"I3":1.3,"B1":-0.6,"B2":-0.5,"B3":-0.2},
{"g":"ucp2","r":"Hyper","C1":0,"C2":-0.05,"C3":0.1,"P1":2,"P2":2.2,"P3":2.3,"I1":0.1,"I2":0.1,"I3":0.5,"B1":2.1,"B2":2.2,"B3":2.3},
{"g":"and2","r":"Hyper","C1":-0.05,"C2":-0.05,"C3":0.1,"P1":1.7,"P2":2.1,"P3":2.3,"I1":0.3,"I2":0.4,"I3":0.4,"B1":2.1,"B2":2.2,"B3":2.2},
{"g":"actn3a","r":"Hypo","C1":-1,"C2":1,"C3":-0.2,"P1":-0.5,"P2":0.6,"P3":-0.8,"I1":-2.6,"I2":-0.5,"I3":-1.8,"B1":-1.7,"B2":-0.2,"B3":-1},
{"g":"tnnt3b","r":"Hypo","C1":-1,"C2":0.4,"C3":0.3,"P1":-0.2,"P2":0.3,"P3":-0.05,"I1":-2.7,"I2":-1,"I3":-2,"B1":-1.8,"B2":-0.9,"B3":-0.7},
{"g":"rtn4a","r":"Hypo","C1":-0.6,"C2":0.2,"C3":0.3,"P1":1,"P2":1.3,"P3":0.8,"I1":-1.1,"I2":-0.8,"I3":-0.9,"B1":1.1,"B2":1.5,"B3":1.1},
{"g":"calm2a","r":"Hypo","C1":-0.7,"C2":0.1,"C3":0.4,"P1":-1,"P2":-2.2,"P3":-0.6,"I1":-2.4,"I2":-2.4,"I3":-1.9,"B1":-1.4,"B2":-0.8,"B3":0},
{"g":"cnbpb","r":"Hyper","C1":-1.2,"C2":0.3,"C3":0.6,"P1":-2.2,"P2":-1.6,"P3":-2,"I1":-1.9,"I2":-1.7,"I3":-0.9,"B1":-2.9,"B2":-2.3,"B3":-1.6},
{"g":"CABZ01061524.1","r":"Hypo","C1":-0.9,"C2":0.7,"C3":-0.1,"P1":-0.5,"P2":0.4,"P3":-0.5,"I1":-3.5,"I2":-0.8,"I3":-0.7,"B1":-1.9,"B2":-0.3,"B3":-0.5},
{"g":"myom2a","r":"Hypo","C1":-0.3,"C2":0.6,"C3":-0.4,"P1":0.3,"P2":1,"P3":-0.7,"I1":-2.9,"I2":-0.8,"I3":-1.4,"B1":-1,"B2":-0.3,"B3":-0.8},
{"g":"zgc:123103","r":"Hyper","C1":-0.5,"C2":0.6,"C3":0,"P1":-2.7,"P2":-2.2,"P3":-1.5,"I1":-1.5,"I2":-0.2,"I3":-1.4,"B1":-2.6,"B2":-2.5,"B3":-1.5},
{"g":"parp1","r":"Hyper","C1":-0.3,"C2":0.3,"C3":0,"P1":-2.5,"P2":-3.2,"P3":-2,"I1":-1,"I2":-1.2,"I3":-1,"B1":-2.5,"B2":-2.7,"B3":-1.6},
{"g":"gmpr","r":"Hypo","C1":-0.5,"C2":0.7,"C3":-0.2,"P1":1.2,"P2":1.5,"P3":0.8,"I1":-1.2,"I2":-1,"I3":-0.8,"B1":0.5,"B2":1,"B3":0.2},
{"g":"smyhc1","r":"Hypo","C1":-0.4,"C2":0.7,"C3":-0.4,"P1":0.8,"P2":1.4,"P3":0,"I1":-1.8,"I2":-0.5,"I3":-1,"B1":-0.3,"B2":1,"B3":0.2},
{"g":"kif11","r":"Hyper","C1":-0.7,"C2":0.7,"C3":0,"P1":-2.4,"P2":-1.8,"P3":-2.8,"I1":-1,"I2":-0.6,"I3":-1.4,"B1":-2.3,"B2":-1.8,"B3":-2.8},
{"g":"tnnc2","r":"Hypo","C1":-1.3,"C2":0.8,"C3":0.2,"P1":-0.1,"P2":1,"P3":-0.5,"I1":-2.2,"I2":-1.3,"I3":-2.2,"B1":-1.1,"B2":-0.05,"B3":-0.7},
{"g":"pvalb9","r":"Hypo","C1":-1.3,"C2":1.5,"C3":-0.3,"P1":-0.7,"P2":-0.6,"P3":-1,"I1":-2.3,"I2":-1.9,"I3":-1.9,"B1":-0.7,"B2":-0.3,"B3":0.1},
{"g":"arsf1b","r":"Hyper","C1":-0.5,"C2":0,"C3":0.6,"P1":-1.7,"P2":-1.7,"P3":-2.3,"I1":-1.8,"I2":-1.6,"I3":-1.6,"B1":-2.8,"B2":-2.8,"B3":-3.1},
{"g":"myl1","r":"Hyper","C1":-0.7,"C2":0.9,"C3":0,"P1":-2.1,"P2":-1.3,"P3":-3.2,"I1":-1.4,"I2":-1.2,"I3":-1.2,"B1":-2.4,"B2":-1.2,"B3":-2.6},
{"g":"krt4","r":"Hyper","C1":-0.1,"C2":0.3,"C3":0,"P1":-2.4,"P2":-2.1,"P3":-2.6,"I1":-0.1,"I2":-0.7,"I3":-0.4,"B1":-2.4,"B2":-2,"B3":-2.7},
{"g":"hrc","r":"Hyper","C1":-0.7,"C2":0.5,"C3":0.3,"P1":-1.9,"P2":-2.4,"P3":-0.5,"I1":-1.2,"I2":-1.4,"I3":-0.4,"B1":-3.1,"B2":-2.8,"B3":-2.2},
{"g":"igfn1.1","r":"Hyper","C1":0.4,"C2":0.2,"C3":-0.5,"P1":-1.4,"P2":-2,"P3":-2.5,"I1":-1.2,"I2":-0.6,"I3":-1.3,"B1":-3,"B2":-2.6,"B3":-2.7},
{"g":"anxa1c","r":"Hyper","C1":-0.1,"C2":0.2,"C3":-0.05,"P1":-2.6,"P2":-2.1,"P3":-2.6,"I1":-0.3,"I2":-0.5,"I3":-0.5,"B1":-2.7,"B2":-2.4,"B3":-2.7},
{"g":"myhz2","r":"Hyper","C1":-0.6,"C2":0.2,"C3":0.3,"P1":-1.6,"P2":-2,"P3":-1.4,"I1":-2.4,"I2":-0.8,"I3":-0.7,"B1":-3.5,"B2":-2.4,"B3":-1.7},
{"g":"myhz1.1","r":"Hypo","C1":-1,"C2":0.6,"C3":0.1,"P1":-0.05,"P2":0.3,"P3":-0.4,"I1":-3.8,"I2":-0.6,"I3":-1.5,"B1":-1.5,"B2":-0.7,"B3":-0.6},
{"g":"myhz1.2","r":"Hypo","C1":-0.7,"C2":0.6,"C3":0.05,"P1":0.05,"P2":0.05,"P3":-0.2,"I1":-4,"I2":-1.1,"I3":-1.4,"B1":-1.2,"B2":-0.6,"B3":-0.5},
{"g":"tgm2a","r":"Hyper","C1":0,"C2":0.3,"C3":-0.2,"P1":-1.6,"P2":-2.4,"P3":-2.1,"I1":-1.4,"I2":-0.9,"I3":-1.3,"B1":-2.6,"B2":-2.9,"B3":-2.5},
{"g":"mybpc2b","r":"Hyper","C1":-0.2,"C2":0.6,"C3":-0.2,"P1":-2.3,"P2":-1.6,"P3":-2.3,"I1":-0.6,"I2":-0.5,"I3":-0.6,"B1":-2.6,"B2":-1.8,"B3":-2.5},
{"g":"myhz1.3","r":"Hypo","C1":-0.9,"C2":0.9,"C3":-0.1,"P1":-0.6,"P2":0,"P3":-0.3,"I1":-3.7,"I2":-1.2,"I3":-1.7,"B1":-1.6,"B2":-0.3,"B3":-0.7}
]},
"resolve":{"scale":{"x":"independent","y":"independent","fill":"independent","size":"independent","theta":"independent"}},
"layer":[
{"encoding":{"x":{"field":"vx","type":"quantitative","axis":null,"scale":{"domain":[0,1000],"range":[0,1000],"nice":false,"zero":false}},"y":{"field":"vy","type":"quantitative","axis":null,"scale":{"domain":[0,1000],"range":[0,1000],"nice":false,"zero":false}}},
"layer":[
{"data":{"name":"venn"},"transform":[{"filter":"datum.set!='IMQ'"}],"mark":{"type":"point","filled":true,"opacity":1},"encoding":{"size":{"field":"n","type":"quantitative","legend":null,"scale":{"domain":[0,4412],"range":[0,29584]}},"fill":{"field":"set","type":"nominal","legend":null,"scale":{"domain":["CP","IMQ","CP + IMQ","all","CPxIMQ","CPxB","IMQxB"],"range":["#5a7aae","#2f5a26","#8bd5b9","#5f8c99","#f5ab3e","#8ac6e8","#ea5bb5"]}}}},
{"data":{"name":"regions"},"mark":{"type":"area","orient":"horizontal","interpolate":"monotone"},"encoding":{"x2":{"field":"vx2"},"fill":{"field":"cat","type":"nominal","legend":null}}},
{"data":{"name":"venn"},"transform":[{"filter":"datum.set!='IMQ'"}],"mark":{"type":"point","filled":false,"fill":null,"opacity":1,"stroke":"#2a3a3a","strokeWidth":0.7},"encoding":{"size":{"field":"n","type":"quantitative","legend":null}}},
{"data":{"name":"venn"},"transform":[{"filter":"datum.set=='IMQ'"}],"mark":{"type":"point","filled":true,"opacity":1},"encoding":{"size":{"field":"n","type":"quantitative","legend":null},"fill":{"field":"set","type":"nominal","legend":null}}},
{"data":{"name":"imqRegions"},"mark":{"type":"area","orient":"horizontal","interpolate":"monotone"},"encoding":{"x2":{"field":"vx2"},"fill":{"field":"cat","type":"nominal","legend":null}}},
{"data":{"name":"venn"},"transform":[{"filter":"datum.set=='IMQ'"}],"mark":{"type":"point","filled":false,"fill":null,"opacity":1,"stroke":"#111","strokeWidth":1.1},"encoding":{"size":{"field":"n","type":"quantitative","legend":null}}},
{"data":{"name":"solid"},"mark":{"type":"rule","stroke":"#222","strokeWidth":0.9},"encoding":{"x2":{"field":"vx2"},"y2":{"field":"vy2"}}},
{"data":{"name":"dotted"},"mark":{"type":"rule","stroke":"#777","strokeWidth":0.6,"strokeDash":[1.5,1.2]},"encoding":{"x2":{"field":"vx2"},"y2":{"field":"vy2"}}}
]},
{"data":{"name":"mainPie"},"transform":[{"stack":"n","groupby":["vx"],"offset":"normalize","sort":[{"field":"ord","order":"ascending"}],"as":["t0","t1"]}],"mark":{"type":"arc","radius":47.7,"stroke":"#111","strokeWidth":1},"encoding":{"x":{"field":"vx","type":"quantitative","stack":null,"axis":null,"scale":{"domain":[0,1000],"range":[0,1000],"nice":false,"zero":false}},"y":{"field":"vy","type":"quantitative","stack":null,"axis":null,"scale":{"domain":[0,1000],"range":[0,1000],"nice":false,"zero":false}},"theta":{"field":"t0","type":"quantitative","stack":null,"scale":{"domain":[0,1],"range":[0,6.2832]}},"theta2":{"field":"t1"},"fill":{"field":"resp","type":"nominal","legend":null,"scale":{"domain":["Non-responsive","Hyper-responsive","Hypo-responsive"],"range":["#bdbdbd","#f4623f","#5f8fe5"]}}}},
{"data":{"name":"smallPies"},"transform":[{"stack":"n","groupby":["pie"],"offset":"normalize","sort":[{"field":"ord","order":"ascending"}],"as":["t0","t1"]}],"mark":{"type":"arc","radius":17.3,"stroke":"#222","strokeWidth":0.5},"encoding":{"x":{"field":"vx","type":"quantitative","stack":null,"axis":null,"scale":{"domain":[0,1000],"range":[0,1000],"nice":false,"zero":false}},"y":{"field":"vy","type":"quantitative","stack":null,"axis":null,"scale":{"domain":[0,1000],"range":[0,1000],"nice":false,"zero":false}},"theta":{"field":"t0","type":"quantitative","stack":null,"scale":{"domain":[0,1],"range":[1.5708,7.854]}},"theta2":{"field":"t1"},"fill":{"field":"cat","type":"nominal","legend":null,"scale":{"domain":["CP","IMQ","CP + IMQ","all","CPxIMQ","CPxB","IMQxB"],"range":["#5a7aae","#2f5a26","#8bd5b9","#5f8c99","#f5ab3e","#8ac6e8","#ea5bb5"]}}}},
{"encoding":{"x":{"field":"vx","type":"quantitative","axis":null,"scale":{"domain":[0,1000],"range":[0,1000],"nice":false,"zero":false}},"y":{"field":"vy","type":"quantitative","axis":null,"scale":{"domain":[0,1000],"range":[0,1000],"nice":false,"zero":false}},"text":{"field":"t"}},
"layer":[
{"data":{"name":"labels"},"mark":{"type":"text","fill":"#1c2b33","baseline":"middle"},"encoding":{"size":{"field":"kind","type":"nominal","legend":null,"scale":{"type":"ordinal","domain":["venn","main","small"],"range":[10.5,11,7]}}}},
{"data":{"values":[{"t":"12","vx":101,"vy":408}]},"mark":{"type":"text","fill":"white","fontSize":7.5,"baseline":"middle"}},
{"data":{"name":"letters"},"mark":{"type":"text","fill":"black","fontWeight":"bold","fontSize":12.5,"align":"left","baseline":"middle"}}
]},
{"data":{"name":"conditions"},"mark":{"type":"point","filled":true,"opacity":0},"encoding":{"fill":{"field":"c","type":"nominal","scale":{"domain":["CP","IMQ","CP + IMQ","Intersection all","Intersection CP x IMQ","Intersection CP x CP + IMQ","Intersection IMQ x CP + IMQ"],"range":["#5a7aae","#2f5a26","#8bd5b9","#5f8c99","#f5ab3e","#8ac6e8","#ea5bb5"]},"legend":{"title":"Condition","orient":"none","legendX":277,"legendY":17,"symbolType":"circle","symbolSize":110,"symbolOpacity":1,"symbolStrokeColor":"#444","symbolStrokeWidth":0.8,"titleFontSize":10.5,"labelFontSize":9,"rowPadding":2.5,"titlePadding":6,"labelOffset":7}}}},
{"data":{"name":"conditions"},"mark":{"type":"point","filled":true,"opacity":0},"encoding":{"fill":{"field":"c","type":"nominal","scale":{"domain":["CP","IMQ","CP + IMQ","Intersection all","Intersection CP x IMQ","Intersection CP x CP + IMQ","Intersection IMQ x CP + IMQ"],"range":["#5a7aae","#2f5a26","#8bd5b9","#5f8c99","#f5ab3e","#8ac6e8","#ea5bb5"]},"legend":{"title":"Affiliation to condition","orient":"none","legendX":277,"legendY":299,"symbolType":"circle","symbolSize":110,"symbolOpacity":1,"symbolStrokeColor":"#444","symbolStrokeWidth":0.8,"titleFontSize":10.5,"labelFontSize":9,"rowPadding":2.5,"titlePadding":6,"labelOffset":7}}}},
{"data":{"name":"respCats"},"mark":{"type":"point","filled":true,"opacity":0},"encoding":{"fill":{"field":"resp","type":"nominal","sort":null,"scale":{"domain":["Non-responsive","Hyper-responsive","Hypo-responsive"],"range":["#bdbdbd","#f4623f","#5f8fe5"]},"legend":{"title":"Responsiveness","orient":"none","legendX":275,"legendY":218,"symbolType":"circle","symbolSize":110,"symbolOpacity":1,"symbolStrokeColor":"#333","symbolStrokeWidth":0.9,"titleFontSize":10.5,"labelFontSize":9,"rowPadding":1.5,"titlePadding":6,"labelOffset":7}}}},
{"data":{"name":"respCats"},"mark":{"type":"point","filled":true,"opacity":0},"encoding":{"fill":{"field":"resp","type":"nominal","sort":null,"scale":{"domain":["Non-responsive","Hyper-responsive","Hypo-responsive"],"range":["#bdbdbd","#f4623f","#5f8fe5"]},"legend":{"title":"Responsiveness","orient":"none","legendX":277,"legendY":435,"symbolType":"circle","symbolSize":110,"symbolOpacity":1,"symbolStrokeColor":"#333","symbolStrokeWidth":0.9,"titleFontSize":10.5,"labelFontSize":9,"rowPadding":3,"titlePadding":6,"labelOffset":7}}}},
{"encoding":{"x":{"field":"x","type":"quantitative","scale":{"domain":[-0.649,2.3],"range":[47.7,255],"nice":false,"zero":false},"axis":{"orient":"bottom","offset":-360.7,"title":"Log2FoldChange IMQ vs. Control","values":[0,1,2],"format":"d","domain":false,"tickSize":2,"tickColor":"#888","labelFontSize":6.5,"labelPadding":1,"titleFontSize":6.3,"titlePadding":1,"labelColor":"#333","titleColor":"#333"}},"y":{"field":"y","type":"quantitative","scale":{"domain":[-2.07,5.02],"range":[634.3,442.7],"nice":false,"zero":false},"axis":{"orient":"left","offset":-47.7,"title":"Log2FoldChange CP+IMQ vs. Control","values":[-2,0,2,4],"format":"d","domain":false,"tickSize":2,"tickColor":"#888","labelFontSize":6.5,"labelPadding":1,"titleFontSize":6.3,"titlePadding":2,"labelColor":"#333","titleColor":"#333"}}},
"layer":[
{"data":{"values":[{}]},"mark":{"type":"rule","stroke":"#bbb","strokeWidth":1},"encoding":{"x":{"datum":0},"y":{"datum":-2.07},"y2":{"datum":5.02}}},
{"data":{"values":[{}]},"mark":{"type":"rule","stroke":"#bbb","strokeWidth":1},"encoding":{"y":{"datum":0},"x":{"datum":-0.649},"x2":{"datum":2.3}}},
{"data":{"name":"scatter"},"mark":{"type":"circle","opacity":1,"size":13},"encoding":{"fill":{"field":"r","type":"nominal","legend":null,"scale":{"domain":["N","H","L"],"range":["#bdbdbd","#f05f43","#5f8fe5"]}}}},
{"data":{"name":"fits"},"mark":{"type":"line","stroke":"#222","strokeWidth":0.9,"strokeDash":[4,3]},"encoding":{"detail":{"field":"fit"}}},
{"data":{"values":[{}]},"mark":{"type":"rect","fill":null,"stroke":"#b5b5b5","strokeWidth":1.2},"encoding":{"x":{"datum":-0.649},"x2":{"datum":2.3},"y":{"datum":-2.07},"y2":{"datum":5.02}}}
]},
{"data":{"values":[{"t":5},{"t":10},{"t":15},{"t":20},{"t":25},{"t":30},{"t":35},{"t":40}]},"mark":{"type":"rule","stroke":"#eeeeee","strokeWidth":0.6},"encoding":{"x":{"field":"t","type":"quantitative","axis":null,"scale":{"domain":[3.66,44.84],"range":[185.3,360.7],"nice":false,"zero":false}},"y":{"datum":0,"type":"quantitative","axis":null,"scale":{"domain":[0,1],"range":[973,683],"nice":false,"zero":false}},"y2":{"datum":1}}},
{"encoding":{"x":{"field":"enrich","type":"quantitative","stack":null,"scale":{"domain":[3.66,44.84],"range":[185.3,360.7],"nice":false,"zero":false},"axis":{"orient":"bottom","offset":-22,"values":[10,20,30,40],"title":"GeneSet Enrichment [%]","titleFontSize":8.5,"labelFontSize":7.5,"domain":false,"tickSize":2,"tickColor":"#888","labelPadding":1,"titlePadding":1,"labelColor":"#333","titleColor":"#333"}},"y":{"field":"term","type":"nominal","scale":{"type":"point","padding":0,"domain":["regulation of muscle contraction","muscle contraction","muscle system process","regulation of muscle system process","ammonium homeostasis","circadian regulation of gene expression","ammonium transmembrane transport","skeletal muscle contraction","striated muscle contraction","musculoskeletal movement","multicellular organismal movement","response to hydrogen peroxide","response to activity","entrainment of circadian clock by photoperiod","entrainment of circadian clock","rhythmic process"],"range":[692.7,961.7]},"axis":{"orient":"left","offset":-185.3,"title":null,"domain":false,"ticks":false,"labelPadding":3,"labelFontSize":10,"labelColor":"#222","labelLimit":250,"labelLineHeight":8,"labelOffset":{"condition":{"test":"datum.label=='entrainment of circadian clock by photoperiod'","value":-5},"value":0},"labelExpr":"datum.label=='entrainment of circadian clock by photoperiod'?['entrainment of circadian','clock by photoperiod']:datum.label"}}},
"layer":[
{"data":{"name":"enrich"},"transform":[{"filter":"datum.ord==1"}],"mark":{"type":"rule","stroke":"#eeeeee","strokeWidth":0.6},"encoding":{"x":{"datum":3.66},"x2":{"datum":44.84}}},
{"data":{"name":"enrich"},"transform":[{"stack":"n","groupby":["term"],"offset":"normalize","sort":[{"field":"ord","order":"ascending"}],"as":["t0","t1"]}],"mark":{"type":"arc","stroke":"#333","strokeWidth":0.5},"encoding":{"theta":{"field":"t0","type":"quantitative","stack":null,"scale":{"domain":[0,1],"range":[0,6.2832]}},"theta2":{"field":"t1"},"radius":{"field":"ratio","type":"quantitative","legend":null,"scale":{"type":"sqrt","domain":[0,0.06],"range":[0,9.5]}},"fill":{"field":"resp","type":"nominal","legend":null,"scale":{"domain":["Non-responsive","Hyper-responsive","Hypo-responsive"],"range":["#bdbdbd","#f05f43","#5f8fe5"]}}}}
]},
{"encoding":{"x":{"field":"x1","type":"quantitative","axis":null,"scale":{"domain":[3.66,44.84],"range":[185.3,360.7],"nice":false,"zero":false}},"x2":{"field":"x2"},"y":{"field":"y1","type":"quantitative","axis":null,"scale":{"domain":[0,1],"range":[973,683],"nice":false,"zero":false}},"y2":{"field":"y2"}},
"layer":[
{"data":{"values":[{"x1":3.66,"x2":44.84,"y1":0,"y2":1}]},"mark":{"type":"rect","fill":null,"stroke":"#b8b8b8","strokeWidth":1.3}},
{"data":{"values":[{"x1":34.8,"x2":44.84,"y1":0.179,"y2":0.407}]},"mark":{"type":"rect","fill":"white","stroke":"#aaa","strokeWidth":1}},
{"data":{"values":[{"x1":27.8,"x2":44.84,"y1":0,"y2":0.179}]},"mark":{"type":"rect","fill":"white","stroke":"#666","strokeWidth":1.2}}
]},
{"data":{"values":[{"ratio":0.03},{"ratio":0.04},{"ratio":0.05}]},"mark":{"type":"point","filled":true,"opacity":0,"fill":"black"},"encoding":{"size":{"field":"ratio","type":"quantitative","scale":{"domain":[0.03,0.05],"range":[121,256],"zero":false},"legend":{"type":"symbol","title":"GeneRatio","orient":"none","legendX":325,"legendY":859,"values":[0.03,0.04,0.05],"format":".2f","symbolOpacity":1,"symbolFillColor":"black","symbolStrokeColor":"black","titleFontSize":5.5,"labelFontSize":5.3,"rowPadding":-2.5,"titlePadding":4,"labelOffset":4,"titleColor":"#555","labelColor":"#555"}}}},
{"data":{"name":"respCats"},"mark":{"type":"point","filled":true,"opacity":0},"encoding":{"fill":{"field":"resp","type":"nominal","sort":null,"scale":{"domain":["Non-responsive","Hyper-responsive","Hypo-responsive"],"range":["#bdbdbd","#f05f43","#5f8fe5"]},"legend":{"title":"Responsiveness","orient":"none","legendX":296,"legendY":926,"symbolType":"circle","symbolSize":64,"symbolOpacity":1,"symbolStrokeColor":"#444","symbolStrokeWidth":0.6,"titleFontSize":6.2,"labelFontSize":5.3,"rowPadding":-1,"titlePadding":5,"labelOffset":4,"titleColor":"#444","labelColor":"#444"}}}},
{"data":{"name":"heat"},"transform":[{"fold":["C1","C2","C3","P1","P2","P3","I1","I2","I3","B1","B2","B3"],"as":["s","v"]}],"mark":{"type":"rect"},"encoding":{"x":{"field":"s","type":"nominal","axis":null,"sort":null,"scale":{"type":"band","range":[465.9,740],"paddingInner":0,"paddingOuter":0}},"y":{"field":"g","type":"nominal","sort":null,"scale":{"type":"band","range":[31.2,962.8],"paddingInner":0,"paddingOuter":0},"axis":{"orient":"right","offset":-52.7,"title":null,"domain":false,"ticks":false,"labelPadding":0,"labelFontSize":6,"labelColor":"#333","labelOverlap":false,"labelBound":false,"labelLimit":80}},"fill":{"field":"v","type":"quantitative","scale":{"domain":[-4,-2.6,-1,0,1,2,3,4],"range":["#00007f","#4f3a9c","#bdb0de","#ffffff","#fcb39e","#ef6b4a","#dd3a1f","#cc0000"]},"legend":{"title":"Relative Expression","orient":"none","direction":"horizontal","legendX":465.5,"legendY":968,"gradientLength":274,"gradientThickness":8,"values":[-4,-2,0,2,4],"titleFontSize":8,"titleAnchor":"middle","titleAlign":"center","titlePadding":2,"labelFontSize":6.5,"labelOverlap":false,"tickCount":5}}}},
{"data":{"name":"heat"},"mark":{"type":"rect"},"encoding":{"x":{"datum":0,"type":"quantitative","axis":null,"scale":{"domain":[0,1],"range":[744.3,750.7],"nice":false,"zero":false}},"x2":{"datum":1},"y":{"field":"g","type":"nominal","sort":null,"axis":null,"scale":{"type":"band","range":[31.2,962.8],"paddingInner":0,"paddingOuter":0}},"fill":{"field":"r","type":"nominal","scale":{"domain":["Hypo","Hyper"],"range":["#5f8fe5","#f05f43"]},"legend":{"title":"Responsiveness","orient":"none","legendX":744,"legendY":967,"symbolType":"square","symbolSize":36,"symbolOpacity":1,"titleFontSize":8.5,"labelFontSize":6.6,"rowPadding":0,"titlePadding":2,"labelOffset":1,"labelExpr":"datum.label+'-responsive'"}}}},
{"data":{"name":"hdr"},"encoding":{"x":{"field":"s","type":"nominal","axis":null,"sort":null,"scale":{"type":"band","range":[465.9,740],"paddingInner":0,"paddingOuter":0}}},
"layer":[
{"mark":{"type":"rect"},"encoding":{"y":{"datum":"cond","type":"nominal","axis":null,"scale":{"type":"band","domain":["cond","rep"],"range":[15.3,30.9],"paddingInner":0.05,"paddingOuter":0}},"fill":{"field":"cond","type":"nominal","legend":null,"scale":{"domain":["Control","CP","IMQ","CP + IMQ","1","2","3"],"range":["#e0e0e0","#5a7aae","#2f5a26","#8bd5b9","#bdbdbd","#8e8e8e","#575757"]}}}},
{"mark":{"type":"rect"},"encoding":{"y":{"datum":"rep","type":"nominal"},"fill":{"field":"rep","type":"nominal","legend":null}}},
{"transform":[{"filter":"datum.rep=='2'"}],"mark":{"type":"text","fontSize":7,"fill":"#222","baseline":"middle"},"encoding":{"y":{"datum":"cond","type":"nominal"},"text":{"field":"cond"}}},
{"mark":{"type":"text","fontSize":6,"fill":"#222","baseline":"middle"},"encoding":{"y":{"datum":"rep","type":"nominal"},"text":{"field":"rep"}}}
]}
]}
